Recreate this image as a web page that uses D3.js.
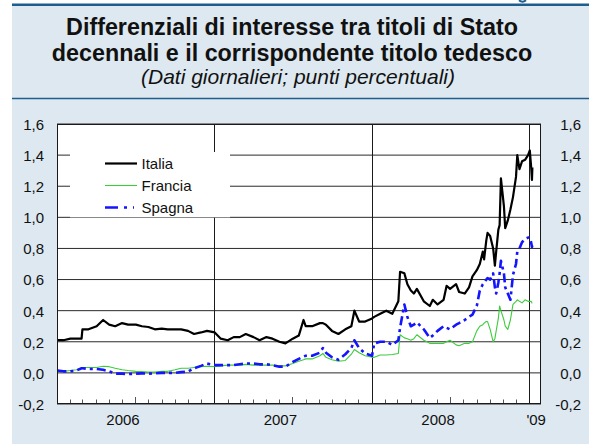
<!DOCTYPE html>
<html>
<head>
<meta charset="utf-8">
<script src="https://cdn.jsdelivr.net/npm/d3@7"></script>
<style>
  html, body { margin: 0; padding: 0; background: #ffffff; }
  svg { display: block; font-family: "Liberation Sans", Arial, Helvetica, sans-serif; }
</style>
</head>
<body>
<svg id="chart" width="589" height="444"></svg>
<script>
// Daily spreads vs. the German 10-year Bund (percentage points), sampled dates
const dates = [
  "2006-01-02","2006-01-16","2006-02-01","2006-02-15","2006-02-27","2006-03-01","2006-03-15","2006-04-03",
  "2006-04-18","2006-05-02","2006-05-16","2006-06-01","2006-06-15","2006-07-03","2006-07-17","2006-08-01",
  "2006-08-16","2006-09-01","2006-09-15","2006-10-02","2006-10-16","2006-11-01","2006-11-15","2006-12-01",
  "2006-12-15","2007-01-02","2007-01-16","2007-02-01","2007-02-15","2007-03-01","2007-03-15","2007-04-02",
  "2007-04-16","2007-05-02","2007-05-16","2007-06-01","2007-06-15","2007-07-02","2007-07-16","2007-07-27",
  "2007-08-01","2007-08-16","2007-09-03","2007-09-10","2007-09-17","2007-10-01","2007-10-16","2007-11-01",
  "2007-11-15","2007-11-22","2007-12-03","2007-12-17","2008-01-02","2008-01-07","2008-01-21","2008-02-04",
  "2008-02-18","2008-03-03","2008-03-07","2008-03-17","2008-03-24","2008-04-01","2008-04-08","2008-04-15",
  "2008-05-01","2008-05-15","2008-05-22","2008-06-02","2008-06-16","2008-06-23","2008-07-01","2008-07-15",
  "2008-07-22","2008-08-04","2008-08-14","2008-08-22","2008-09-01","2008-09-08","2008-09-15","2008-09-18",
  "2008-09-23","2008-09-26","2008-10-02","2008-10-09","2008-10-13","2008-10-16","2008-10-21","2008-10-24",
  "2008-10-27","2008-11-03","2008-11-06","2008-11-12","2008-11-18","2008-11-24","2008-12-01","2008-12-04",
  "2008-12-09","2008-12-15","2008-12-22","2008-12-29","2009-01-02","2009-01-05","2009-01-07","2009-01-08"
];

const italia = [
  0.21,0.21,0.22,0.22,0.22,0.28,0.28,0.30,
  0.34,0.31,0.30,0.32,0.31,0.31,0.30,0.295,
  0.28,0.285,0.28,0.28,0.28,0.27,0.25,0.26,
  0.27,0.26,0.22,0.21,0.23,0.23,0.25,0.23,
  0.21,0.23,0.22,0.20,0.19,0.22,0.24,0.34,
  0.30,0.30,0.32,0.32,0.31,0.27,0.25,0.28,
  0.30,0.40,0.33,0.33,0.35,0.36,0.38,0.40,
  0.38,0.46,0.65,0.64,0.57,0.53,0.51,0.54,
  0.46,0.43,0.47,0.44,0.47,0.56,0.54,0.57,
  0.52,0.51,0.55,0.62,0.66,0.70,0.78,0.73,
  0.85,0.90,0.88,0.80,0.69,0.78,0.92,0.95,
  1.25,1.07,0.93,0.98,1.05,1.13,1.26,1.40,
  1.31,1.36,1.37,1.40,1.43,1.33,1.24,1.32
];

const francia = [
  0.01,0.01,0.015,0.02,0.03,0.035,0.035,0.035,
  0.043,0.04,0.03,0.02,0.015,0.01,0.008,0.005,
  0.005,0.01,0.01,0.02,0.03,0.03,0.035,0.04,
  0.043,0.04,0.045,0.05,0.05,0.05,0.055,0.05,
  0.05,0.05,0.05,0.045,0.045,0.06,0.075,0.085,
  0.09,0.09,0.11,0.125,0.10,0.085,0.075,0.08,
  0.12,0.15,0.13,0.11,0.10,0.10,0.115,0.115,
  0.118,0.125,0.245,0.225,0.22,0.21,0.22,0.245,
  0.21,0.19,0.19,0.19,0.19,0.20,0.21,0.18,
  0.175,0.19,0.19,0.20,0.27,0.30,0.31,0.32,
  0.33,0.33,0.28,0.20,0.22,0.27,0.35,0.43,
  0.40,0.34,0.30,0.28,0.34,0.44,0.46,0.47,
  0.46,0.45,0.47,0.46,0.46,0.46,0.45,0.45
];

const spagna = [
  0.015,0.01,0.01,0.015,0.03,0.03,0.025,0.025,
  0.02,0.01,-0.005,-0.005,-0.008,-0.005,-0.003,-0.005,
  -0.003,0.0,0.0,0.0,0.005,0.008,0.03,0.045,
  0.06,0.05,0.05,0.05,0.05,0.055,0.06,0.06,
  0.055,0.055,0.05,0.04,0.04,0.07,0.09,0.105,
  0.11,0.11,0.13,0.16,0.13,0.10,0.085,0.12,
  0.16,0.21,0.16,0.125,0.11,0.19,0.20,0.20,
  0.18,0.21,0.29,0.44,0.36,0.30,0.31,0.325,
  0.28,0.225,0.24,0.27,0.30,0.29,0.28,0.31,
  0.32,0.34,0.36,0.375,0.43,0.53,0.57,0.58,
  0.60,0.61,0.60,0.64,0.55,0.51,0.58,0.64,
  0.72,0.64,0.55,0.51,0.47,0.63,0.70,0.78,
  0.80,0.84,0.86,0.87,0.87,0.84,0.81,0.82
];

const yTicks = [-0.2, 0.0, 0.2, 0.4, 0.6, 0.8, 1.0, 1.2, 1.4, 1.6];
const yearLabels = ["2006", "2007", "2008", "'09"];
const seriesNames = ["Italia", "Francia", "Spagna"];

const W = 589, H = 444;
const navy = "#1f5d8c";
const panelBg = "#dde8f0";
const plot = { left: 57, right: 541, top: 124, bottom: 404 };

const parse = d3.timeParse("%Y-%m-%d");
const t = dates.map(parse);

const svg = d3.select("#chart");

// page frame: light blue panel with navy rules
svg.append("rect").attr("x", 12).attr("y", 5).attr("width", W - 12).attr("height", H - 5).attr("fill", panelBg);
svg.append("line").attr("x1", 12).attr("x2", W).attr("y1", 4.75).attr("y2", 4.75)
  .attr("stroke", navy).attr("stroke-width", 2.5);
svg.append("line").attr("x1", 12).attr("x2", W).attr("y1", 98.5).attr("y2", 98.5)
  .attr("stroke", navy).attr("stroke-width", 1.5);
// tail of the running header glyph just above the top rule
svg.append("path").attr("d", "M519,0.2 Q522.5,3.2 526,0.2").attr("fill", "none")
  .attr("stroke", navy).attr("stroke-width", 2);

// titles
const tx = 292;
svg.append("text").attr("x", tx).attr("y", 35).attr("text-anchor", "middle")
  .attr("font-size", 23.3).attr("font-weight", "bold").attr("fill", "#111")
  .text("Differenziali di interesse tra titoli di Stato");
svg.append("text").attr("x", tx).attr("y", 61).attr("text-anchor", "middle")
  .attr("font-size", 23.3).attr("font-weight", "bold").attr("fill", "#111")
  .text("decennali e il corrispondente titolo tedesco");
svg.append("text").attr("x", tx + 6).attr("y", 84).attr("text-anchor", "middle")
  .attr("font-size", 21).attr("font-style", "italic").attr("fill", "#111")
  .text("(Dati giornalieri; punti percentuali)");

// scales
const x = d3.scaleTime()
  .domain([new Date(2006, 0, 1), new Date(2009, 0, 28)])
  .range([plot.left, plot.right]);
const y = d3.scaleLinear().domain([-0.2, 1.6]).range([plot.bottom, plot.top]);

const locale = d3.formatLocale({ decimal: ",", thousands: ".", grouping: [3], currency: ["", "€"], minus: "-" });
const fmt = locale.format(".1f");

// plot background
svg.append("rect").attr("x", plot.left).attr("y", plot.top)
  .attr("width", plot.right - plot.left).attr("height", plot.bottom - plot.top).attr("fill", "#fff");

// horizontal grid
svg.append("g").selectAll("line").data(yTicks).join("line")
  .attr("x1", plot.left).attr("x2", plot.right)
  .attr("y1", d => y(d)).attr("y2", d => y(d))
  .attr("stroke", "#2a2a2a").attr("stroke-width", 1);

// year separators
const yearStarts = [new Date(2007, 0, 1), new Date(2008, 0, 1), new Date(2009, 0, 1)];
svg.append("g").selectAll("line").data(yearStarts).join("line")
  .attr("x1", d => Math.round(x(d)) + 0.5).attr("x2", d => Math.round(x(d)) + 0.5)
  .attr("y1", plot.top).attr("y2", plot.bottom)
  .attr("stroke", "#1a1a1a").attr("stroke-width", 1);

// monthly ticks pointing up from the bottom edge
const months = d3.timeMonth.range(new Date(2006, 1, 1), x.domain()[1])
  .filter(d => d.getMonth() !== 0);
svg.append("g").selectAll("line").data(months).join("line")
  .attr("x1", d => Math.round(x(d)) + 0.5).attr("x2", d => Math.round(x(d)) + 0.5)
  .attr("y1", plot.bottom).attr("y2", d => plot.bottom - (d.getMonth() === 6 ? 7 : 4.5))
  .attr("stroke", "#555").attr("stroke-width", 1);

// axes (labels only)
const yLeft = d3.axisLeft(y).tickValues(yTicks).tickFormat(fmt).tickSize(0).tickPadding(0);
const yRight = d3.axisRight(y).tickValues(yTicks).tickFormat(fmt).tickSize(0).tickPadding(0);
const gl = svg.append("g").attr("transform", "translate(44,0)").call(yLeft);
const gr = svg.append("g").attr("transform", "translate(581,0)").call(yRight);
[gl, gr].forEach(g => {
  g.select(".domain").remove();
  g.selectAll("text").attr("font-size", 15).attr("fill", "#111")
    .attr("font-family", "Liberation Sans, Arial, sans-serif").attr("dy", "0.36em");
});
gr.selectAll("text").attr("text-anchor", "end");

// year labels
const yearCenters = [
  x(new Date(2006, 6, 1)) - 12,
  x(new Date(2007, 6, 1)) - 12,
  x(new Date(2008, 6, 1)) - 12,
  (x(new Date(2009, 0, 1)) + plot.right) / 2 + 1
];
svg.append("g").selectAll("text").data(yearLabels).join("text")
  .attr("x", (d, i) => yearCenters[i]).attr("y", 425)
  .attr("text-anchor", "middle").attr("font-size", 15).attr("fill", "#111")
  .text(d => d);

// series
const lineGen = vals => d3.line().x((d, i) => x(t[i])).y(d => y(d))(vals);
const styles = {
  Italia:  { color: "#000000", width: 2.2, dash: null },
  Francia: { color: "#3ccc3c", width: 1.1, dash: null },
  Spagna:  { color: "#1414ff", width: 2.6, dash: "9,4,3,4" }
};
const seriesData = { Italia: italia, Francia: francia, Spagna: spagna };
const clipId = "plotclip";
svg.append("clipPath").attr("id", clipId).append("rect")
  .attr("x", plot.left).attr("y", plot.top).attr("width", plot.right - plot.left).attr("height", plot.bottom - plot.top);
const lines = svg.append("g").attr("clip-path", `url(#${clipId})`);
["Francia", "Spagna", "Italia"].forEach(name => {
  const s = styles[name];
  lines.append("path").attr("d", lineGen(seriesData[name]))
    .attr("fill", "none").attr("stroke", s.color).attr("stroke-width", s.width)
    .attr("stroke-linejoin", "round").attr("stroke-dasharray", s.dash);
});

// legend box (covers the grid beneath)
const lg = svg.append("g");
lg.append("rect").attr("x", 70).attr("y", 152).attr("width", 160).attr("height", y(1.0) - 152)
  .attr("fill", "#fff");
seriesNames.forEach((name, i) => {
  const s = styles[name];
  const ly = 163.5 + i * 22;
  lg.append("line").attr("x1", 105).attr("x2", 137).attr("y1", ly).attr("y2", ly)
    .attr("stroke", s.color).attr("stroke-width", s.width).attr("stroke-dasharray", s.dash ? "13,6,3,6,1,3" : null);
  lg.append("text").attr("x", 141.5).attr("y", ly + 5.5).attr("font-size", 15).attr("fill", "#111").text(name);
});

// plot frame
svg.append("rect").attr("x", plot.left + 0.5).attr("y", plot.top + 0.5)
  .attr("width", plot.right - plot.left - 1).attr("height", plot.bottom - plot.top - 1)
  .attr("fill", "none").attr("stroke", "#1a1a1a").attr("stroke-width", 1);
</script>
</body>
</html>
